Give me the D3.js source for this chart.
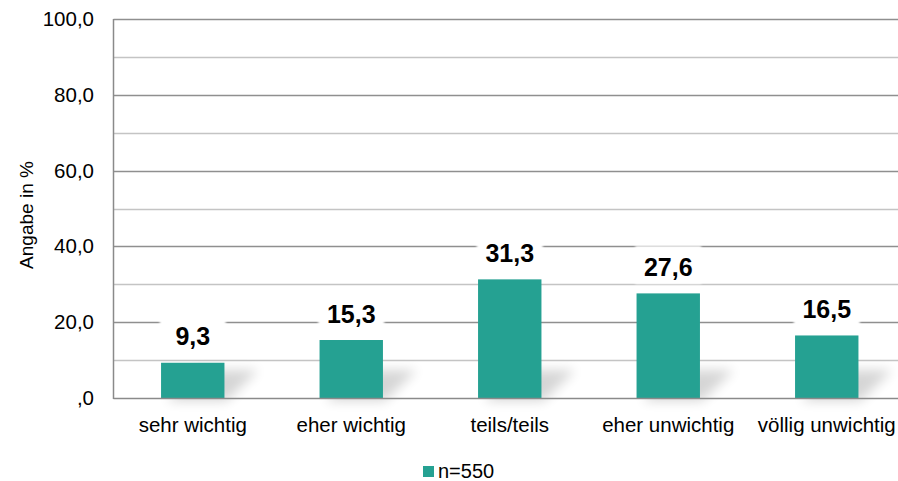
<!DOCTYPE html>
<html>
<head>
<meta charset="utf-8">
<script src="https://cdn.jsdelivr.net/npm/d3@7"></script>
<style>
  html, body { margin: 0; padding: 0; background: #fff; overflow: hidden; }
  svg { display: block; font-family: "Liberation Sans", Arial, sans-serif; }
</style>
</head>
<body>
<svg id="chart" width="898" height="481"></svg>
<script>
const categories = ["sehr wichtig", "eher wichtig", "teils/teils", "eher unwichtig", "völlig unwichtig"];
const values = [9.3, 15.3, 31.3, 27.6, 16.5];
const majorTicks = [0, 20, 40, 60, 80, 100];
const minorTicks = [10, 30, 50, 70, 90];
const seriesName = "n=550";

const fmt = v => (v === 0 ? ",0" : d3.format(".1f")(v).replace(".", ","));

const svg = d3.select("#chart");
const plotLeft = 113.5, plotRight = 906, plotTop = 19, plotBottom = 398;

const x = d3.scaleBand().domain(categories).range([plotLeft, plotRight]).padding(0);
const y = d3.scaleLinear().domain([0, 100]).range([plotBottom, plotTop]);
const barW = x.bandwidth() * 0.4;
const color = "#25a192";

const defs = svg.append("defs");
defs.append("filter").attr("id", "blur").attr("x", "-50%").attr("y", "-50%")
  .attr("width", "200%").attr("height", "200%")
  .append("feGaussianBlur").attr("stdDeviation", 6);
defs.append("filter").attr("id", "soft").attr("x", "-20%").attr("y", "-20%")
  .attr("width", "140%").attr("height", "140%")
  .append("feGaussianBlur").attr("stdDeviation", 1);

// gridlines
svg.append("g").selectAll("line.minor").data(minorTicks).join("line")
  .attr("x1", plotLeft).attr("x2", 898)
  .attr("y1", d => Math.round(y(d)) + 0.5).attr("y2", d => Math.round(y(d)) + 0.5)
  .attr("stroke", "#c4c4c4").attr("stroke-width", 1.3);
svg.append("g").selectAll("line.major").data(majorTicks.filter(d => d > 0)).join("line")
  .attr("x1", plotLeft).attr("x2", 898)
  .attr("y1", d => Math.round(y(d)) + 0.5).attr("y2", d => Math.round(y(d)) + 0.5)
  .attr("stroke", "#8f8f8f").attr("stroke-width", 1.3);

// shadows
const data = categories.map((c, i) => ({ c, v: values[i] }));
svg.append("g").selectAll("polygon").data(data).join("polygon")
  .attr("points", d => {
    const cx = x(d.c) + x.bandwidth() / 2;
    const x0 = cx - barW / 2, x1 = cx + barW / 2, b = y(0);
    const h = Math.min(28, (y(0) - y(d.v)) * 0.9);
    return [[x0 + 6, b + 3], [x1 + 2, b + 3], [x1 + 34, b - h], [x0 + 34, b - h]].map(p => p.join(",")).join(" ");
  })
  .attr("fill", "#000").attr("opacity", 0.16).attr("filter", "url(#blur)");

// bars
svg.append("g").selectAll("rect").data(data).join("rect")
  .attr("x", d => x(d.c) + x.bandwidth() / 2 - barW / 2)
  .attr("width", barW)
  .attr("y", d => y(d.v))
  .attr("height", d => y(0) - y(d.v))
  .attr("fill", color);

// baseline
svg.append("line").attr("x1", plotLeft).attr("x2", 898)
  .attr("y1", Math.round(y(0)) + 0.5).attr("y2", Math.round(y(0)) + 0.5)
  .attr("stroke", "#8a8a8a").attr("stroke-width", 1.5);

// left axis line
svg.append("line").attr("x1", plotLeft).attr("x2", plotLeft)
  .attr("y1", plotTop).attr("y2", y(0) + 1)
  .attr("stroke", "#8a8a8a").attr("stroke-width", 1.5);

// data labels
const lbl = svg.append("g").selectAll("g").data(data).join("g")
  .attr("transform", d => `translate(${x(d.c) + x.bandwidth() / 2},${y(d.v) - 17.5})`);
lbl.append("rect")
  .attr("x", -33).attr("width", 66)
  .attr("y", -30).attr("height", 38)
  .attr("fill", "#fff").attr("filter", "url(#soft)");
lbl.append("text")
  .attr("text-anchor", "middle")
  .attr("font-size", 25).attr("font-weight", "bold").attr("fill", "#000")
  .text(d => fmt(d.v));

// y tick labels
svg.append("g").selectAll("text").data(majorTicks).join("text")
  .attr("x", 94).attr("y", d => y(d) + 7)
  .attr("text-anchor", "end").attr("font-size", 20.5).attr("fill", "#000")
  .text(d => fmt(d));

// category labels
svg.append("g").selectAll("text").data(categories).join("text")
  .attr("x", d => x(d) + x.bandwidth() / 2).attr("y", 431.5)
  .attr("text-anchor", "middle").attr("font-size", 20.5).attr("fill", "#000")
  .text(d => d);

// axis title
svg.append("text")
  .attr("transform", `translate(33,215) rotate(-90)`)
  .attr("text-anchor", "middle").attr("font-size", 19).attr("fill", "#000")
  .text("Angabe in %");

// legend
const lg = svg.append("g");
lg.append("rect").attr("x", 423).attr("y", 466).attr("width", 11).attr("height", 11).attr("fill", color);
lg.append("text").attr("x", 438).attr("y", 477.5).attr("font-size", 20).attr("fill", "#000").text(seriesName);
</script>
</body>
</html>
